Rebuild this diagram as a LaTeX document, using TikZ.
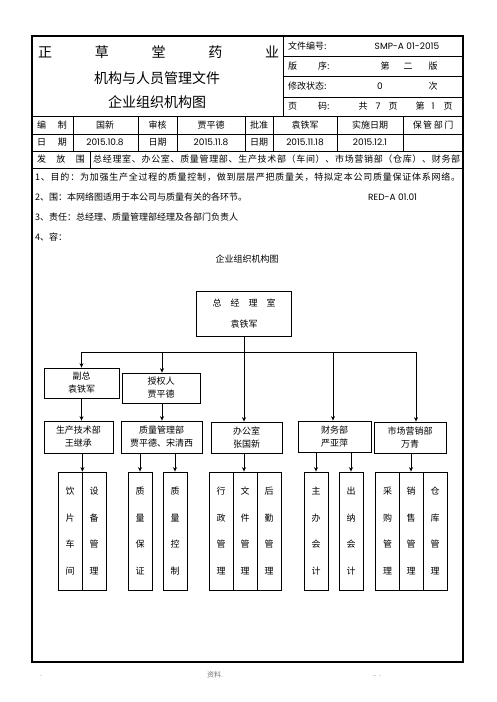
\documentclass[tikz,border=0pt]{standalone}
\usepackage{fontspec}
\setmainfont{Noto Sans CJK SC}
\newfontfamily\lat{Poppins}
\usetikzlibrary{arrows.meta}
\ExplSyntaxOn
\NewDocumentCommand\spreadto{mm}{\hbox~to~#1{\tl_map_inline:nn{#2}{##1\hfil}\unskip}}
\ExplSyntaxOff
\tikzset{
  txt/.style={inner sep=0pt, font=\fontsize{9}{11}\selectfont, text=black},
  ttl/.style={inner sep=0pt, font=\fontsize{14}{16}\selectfont, text=black},
  box/.style={draw, line width=0.8pt, inner sep=1pt, align=center, text=black, font=\fontsize{9}{13}\selectfont},
  vbox/.style={draw, line width=0.8pt, minimum width=24pt, minimum height=118pt, inner sep=0pt, align=center, text=black, font=\fontsize{9}{26.5}\selectfont},
  arr/.style={-{Stealth[length=4.5pt,width=4pt]}, line width=0.8pt},
  grid/.style={line width=0.7pt},
  foot/.style={inner sep=0pt, font=\fontsize{7}{8}\selectfont, text=black!55}
}
\begin{document}
\begin{tikzpicture}[x=1pt,y=-1pt]
\useasboundingbox (0,0) rectangle (496,702);
% outer frame
\draw[line width=1.4pt] (32,36) rectangle (463,662);
% header
\draw[grid] (283,36) -- (283,116);
\draw[grid] (283,56) -- (463,56);
\draw[grid] (283,76) -- (463,76);
\draw[grid] (283,97) -- (463,97);
\node[ttl, text width=241pt] (h1) at (158.5,52) {正\hfill 草\hfill 堂\hfill 药\hfill 业};
\node[ttl] (h2) at (157,78) {机构与人员管理文件};
\node[ttl] (h3) at (157,102) {企业组织机构图};
\node[txt, anchor=west] (r1) at (288,46) {文件编号:};
\node[txt] (r1v) at (407,46) {\lat SMP-A 01-2015};
\node[txt, anchor=west] (r2) at (288,66) {版};
\node[txt, anchor=west] (r2b) at (318,66) {序:};
\node[txt] (r2c) at (385,66) {第};
\node[txt] (r2d) at (408,66) {二};
\node[txt] (r2e) at (433,66) {版};
\node[txt, anchor=west] (r3) at (288,86) {修改状态:};
\node[txt] (r3v) at (380,86) {\lat 0};
\node[txt] (r3c) at (433,86) {次};
\node[txt, anchor=west] (r4) at (288,106) {页};
\node[txt, anchor=west] (r4b) at (318,106) {码:};
\node[txt] (r4c) at (363,106) {共};
\node[txt] (r4d) at (378,106) {\lat 7};
\node[txt] (r4e) at (393,106) {页};
\node[txt] (r4f) at (420,106) {第};
\node[txt] (r4g) at (433,106) {\lat 1};
\node[txt] (r4h) at (448,106) {页};
% table
\draw[grid] (32,116) -- (463,116);
\draw[grid] (32,134) -- (463,134);
\draw[grid] (32,151) -- (463,151);
\draw[grid] (32,168) -- (463,168);
\foreach \xx in {73,138,177,245,273,337,403} {\draw[grid] (\xx,116) -- (\xx,151);}
\draw[grid] (90,151) -- (90,168);
\node[txt, text width=30pt] (c11) at (52,125.5) {编\hfill 制};
\node[txt] (c12) at (105,125.5) {国新};
\node[txt] (c13) at (157.5,125.5) {审核};
\node[txt] (c14) at (211,125.5) {贾平德};
\node[txt] (c15) at (259,125.5) {批准};
\node[txt] (c16) at (305,125.5) {袁铁军};
\node[txt] (c17) at (370,125.5) {实施日期};
\node[txt] (c18) at (433,125.5) {保\,管\,部\,门};
\node[txt, text width=30pt] (c21) at (52,142.5) {日\hfill 期};
\node[txt] (c22) at (105,142.5) {\lat 2015.10.8};
\node[txt] (c23) at (157.5,142.5) {日期};
\node[txt] (c24) at (211,142.5) {\lat 2015.11.8};
\node[txt] (c25) at (259,142.5) {日期};
\node[txt] (c26) at (305,142.5) {\lat 2015.11.18};
\node[txt] (c27) at (370,142.5) {\lat 2015.12.1};
\node[txt, text width=48pt] (c31) at (61,159.5) {发\hfill 放\hfill 围};
\node[txt, anchor=west] (c32) at (93,159.5) {\spreadto{367pt}{总经理室、办公室、质量管理部、生产技术部（车间）、市场营销部（仓库）、财务部}};
% body text
\node[txt, anchor=west] (p1) at (35,177) {\spreadto{425pt}{1、目的：为加强生产全过程的质量控制，做到层层严把质量关，特拟定本公司质量保证体系网络。}};
\node[txt, anchor=west] (p2) at (35,197) {2、围：本网络图适用于本公司与质量有关的各环节。};
\node[txt, anchor=west] (p2b) at (368,197) {\lat RED-A 01.01};
\node[txt, anchor=west] (p3) at (35,217) {3、责任：总经理、质量管理部经理及各部门负责人};
\node[txt, anchor=west] (p4) at (35,237) {4、容：};
% org chart
\node[txt] (ot) at (247,259) {企业组织机构图};
\node[box, minimum width=95pt, minimum height=45pt, font=\fontsize{9}{21}\selectfont] (zj) at (244,313.5) {总\quad 经\quad 理\quad 室\\袁铁军};
\node[box, minimum width=75pt, minimum height=30pt] (fz) at (81.5,383) {副总\\袁铁军};
\node[box, minimum width=78pt, minimum height=30pt] (sq) at (161,388) {授权人\\贾平德};
\node[box, minimum width=69pt, minimum height=32pt] (sc) at (78.5,437) {生产技术部\\王继承};
\node[box, minimum width=81pt, minimum height=32pt] (zl) at (161.5,437) {质量管理部\\贾平德、宋清西};
\node[box, minimum width=71pt, minimum height=31pt] (bg) at (246.5,437.5) {办公室\\张国新};
\node[box, minimum width=73pt, minimum height=31pt] (cw) at (334.5,436.5) {财务部\\严亚萍};
\node[box, minimum width=72pt, minimum height=31pt] (sch) at (410,437.5) {市场营销部\\万青};
\node[vbox] (yp) at (70,531) {饮\\片\\车\\间};
\node[vbox] (sb) at (94,531) {设\\备\\管\\理};
\node[vbox] (zb) at (140,531) {质\\量\\保\\证};
\node[vbox] (zk) at (175,531) {质\\量\\控\\制};
\node[vbox] (xz) at (221,531) {行\\政\\管\\理};
\node[vbox] (wj) at (245,531) {文\\件\\管\\理};
\node[vbox] (hq) at (269,531) {后\\勤\\管\\理};
\node[vbox] (zh) at (316,531) {主\\办\\会\\计};
\node[vbox] (cn) at (351,531) {出\\纳\\会\\计};
\node[vbox] (cg) at (387.5,531) {采\\购\\管\\理};
\node[vbox] (xs) at (411,531) {销\\售\\管\\理};
\node[vbox] (ck) at (435,531) {仓\\库\\管\\理};
% connectors
\coordinate (b1) at (81.5,352);
\coordinate (b2) at (162,352);
\coordinate (b4) at (333,352);
\coordinate (b5) at (416,352);
\draw[line width=0.8pt] (b1) -- (b5);
\draw[arr] (zj.south) -- (zj.south |- bg.north);
\draw[arr] (b1) -- (b1 |- fz.north);
\draw[arr] (b2) -- (b2 |- sq.north);
\draw[arr] (b4) -- (b4 |- cw.north);
\draw[arr] (b5) -- (b5 |- sch.north);
\draw[arr] (fz.south) -- (fz.south |- sc.north);
\draw[arr] (sq.south -| b2) -- (b2 |- zl.north);
\draw[arr] (sc.south -| yp.north east) -- (yp.north east);
\draw[arr] (zl.south -| zb.north) -- (zb.north);
\draw[arr] (zl.south -| zk.north) -- (zk.north);
\draw[arr] (bg.south -| zj.south) -- (zj.south |- wj.north);
\draw[arr] (cw.south -| zh.north) -- (zh.north);
\draw[arr] (cw.south -| cn.north) -- (cn.north);
\draw[arr] (sch.south -| xs.north) -- (xs.north);
% footer
\node[foot] (f1) at (41,676) {.};
\node[foot] (f2) at (215,675) {资料.};
\node[foot] (f3) at (377,676) {.. .};
\end{tikzpicture}
\end{document}
